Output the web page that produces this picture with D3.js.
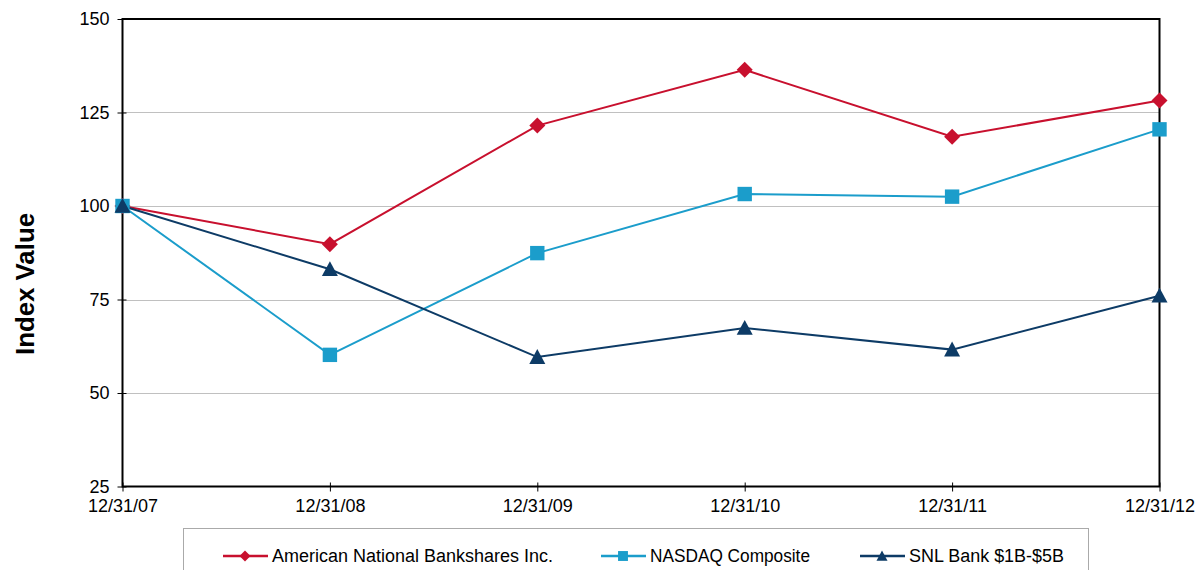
<!DOCTYPE html>
<html><head><meta charset="utf-8">
<script src="https://cdn.jsdelivr.net/npm/d3@7"></script>
<style>body{margin:0;background:#fff}svg{display:block;font-family:"Liberation Sans",Arial,sans-serif}</style>
</head><body>
<svg id="c" width="1204" height="570"></svg>
<script>
const categories = ["12/31/07","12/31/08","12/31/09","12/31/10","12/31/11","12/31/12"];
const anb = [100, 89.8, 121.5, 136.4, 118.5, 128.2];
const nasdaq = [100, 60.2, 87.4, 103.2, 102.5, 120.5];
const snl = [100, 83.1, 59.6, 67.4, 61.6, 76.0];
const yTicks = [25, 50, 75, 100, 125, 150];
const seriesNames = ["American National Bankshares Inc.","NASDAQ Composite","SNL Bank $1B-$5B"];

const series = [
  {name: seriesNames[0], values: anb, color: "#c8102e", shape: "diamond"},
  {name: seriesNames[1], values: nasdaq, color: "#1b9dcb", shape: "square"},
  {name: seriesNames[2], values: snl, color: "#0d3b66", shape: "triangle"}
];

const svg = d3.select("#c");
const L = 122.5, R = 1159.5, T = 19, B = 486.5;
const x = d3.scalePoint().domain(categories).range([L, R]);
const y = d3.scaleLinear().domain([25, 150]).range([B, T]);

// gridlines
svg.append("g").selectAll("line").data(yTicks.filter(v => v > 25 && v < 150)).join("line")
  .attr("x1", L).attr("x2", R).attr("y1", d => Math.round(y(d)) + 0.5).attr("y2", d => Math.round(y(d)) + 0.5)
  .attr("stroke", "#808080").attr("stroke-width", 1).attr("stroke-dasharray", "1,1");

// y axis
const yAxis = svg.append("g").attr("transform", `translate(${L},0)`)
  .call(d3.axisLeft(y).tickValues(yTicks).tickSize(5).tickSizeOuter(0));
yAxis.select(".domain").remove();
yAxis.selectAll(".tick line").attr("x1", -5).attr("x2", 4).attr("stroke", "#000");
yAxis.selectAll(".tick text").attr("x", -13).attr("font-size", 18).attr("fill", "#000")
  .attr("font-family", "Liberation Sans, Arial, sans-serif");

// x axis
const xAxis = svg.append("g").attr("transform", `translate(0,${B})`)
  .call(d3.axisBottom(x).tickSize(5).tickSizeOuter(0));
xAxis.select(".domain").remove();
xAxis.selectAll(".tick line").attr("y1", -4).attr("y2", 5).attr("stroke", "#000");
xAxis.selectAll(".tick text").attr("y", 13).attr("font-size", 18).attr("fill", "#000")
  .attr("font-family", "Liberation Sans, Arial, sans-serif");

// frame
svg.append("rect").attr("x", L).attr("y", T).attr("width", R - L).attr("height", B - T)
  .attr("fill", "none").attr("stroke", "#000").attr("stroke-width", 2);

// y title
svg.append("text").attr("transform", `translate(34,284) rotate(-90)`)
  .attr("text-anchor", "middle").attr("font-size", 25).attr("font-weight", "bold")
  .attr("textLength", 142).attr("lengthAdjust", "spacingAndGlyphs")
  .text("Index Value");

function marker(shape, s) {
  const h = s / 2;
  if (shape === "diamond") return `M0,${-h}L${h},0L0,${h}L${-h},0Z`;
  if (shape === "square") { const q = s * 0.45; return `M${-q},${-q}H${q}V${q}H${-q}Z`; }
  const t = s * 0.5;
  return `M0,${-t}L${t},${t * 0.85}L${-t},${t * 0.85}Z`;
}

const line = d3.line().x((d, i) => x(categories[i])).y(d => y(d));
series.forEach(s => {
  svg.append("path").datum(s.values).attr("d", line)
    .attr("fill", "none").attr("stroke", s.color).attr("stroke-width", 2);
});
series.forEach(s => {
  svg.append("g").selectAll("path").data(s.values).join("path")
    .attr("transform", (d, i) => `translate(${x(categories[i])},${y(d)})`)
    .attr("d", marker(s.shape, 16))
    .attr("fill", s.color);
});

// legend
svg.append("rect").attr("x", 183.5).attr("y", 528.5).attr("width", 905).attr("height", 60)
  .attr("fill", "#fff").attr("stroke", "#aaa").attr("stroke-width", 1);
const legX = [223, 601, 860];
series.forEach((s, i) => {
  const g = svg.append("g").attr("transform", `translate(${legX[i]},556)`);
  g.append("line").attr("x1", 0).attr("x2", 45).attr("stroke", s.color).attr("stroke-width", 2.5);
  g.append("path").attr("transform", "translate(22,0)")
    .attr("d", marker(s.shape, 11)).attr("fill", s.color);
  g.append("text").attr("x", 49).attr("dy", "0.35em").attr("font-size", 18)
    .attr("textLength", [281, 160, 155][i]).attr("lengthAdjust", "spacingAndGlyphs").text(s.name);
});
</script>
</body></html>
